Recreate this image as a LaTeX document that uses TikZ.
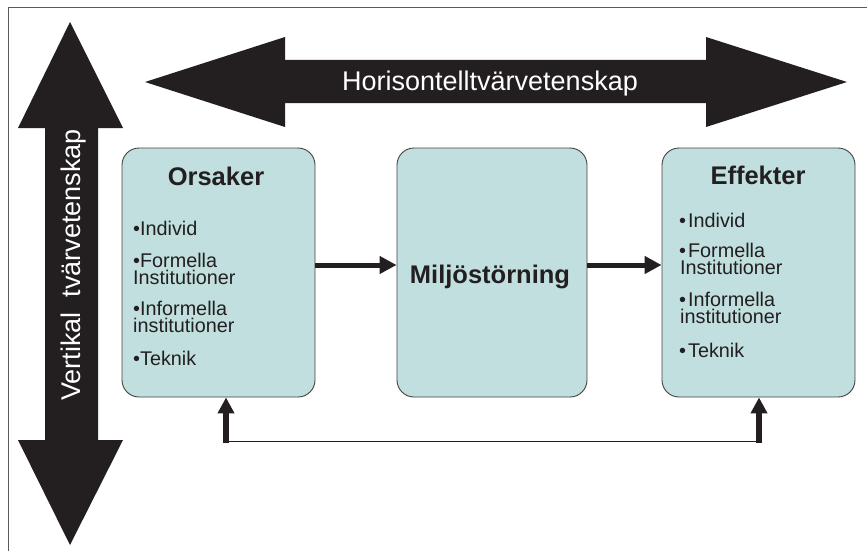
\documentclass[tikz,border=0pt]{standalone}
\usepackage{fontspec}
\setmainfont{Liberation Sans}
\usetikzlibrary{arrows.meta}
\definecolor{boxfill}{HTML}{C0DFDE}
\definecolor{ink}{HTML}{231F20}
\begin{document}
\begin{tikzpicture}[x=1pt,y=-1pt,
  bigarrow/.style={fill=ink,draw=none},
  bigtext/.style={text=white,font=\fontsize{27}{30}\selectfont,inner sep=0pt,anchor=base},
  panel/.style={draw=ink!85,line width=0.9pt,fill=boxfill,rectangle,rounded corners=17pt,inner sep=0pt},
  head/.style={font=\bfseries\fontsize{25.5}{28}\selectfont,text=ink,anchor=base,inner sep=0pt},
  item/.style={font=\fontsize{19.8}{17}\selectfont,text=ink,anchor=base west,inner sep=0pt,align=left},
  flow/.style={draw=ink,line width=5pt,-{Triangle[length=17pt,width=17pt]}},
  feed/.style={draw=ink,line width=6pt,-{Triangle[length=16pt,width=16pt]}},
  thinline/.style={draw=ink,line width=1.4pt},
  frame/.style={draw=black!65,line width=0.9pt}
]
\useasboundingbox (0,0) rectangle (867,551);
\fill[white] (0,0) rectangle (867,551);
\draw[frame] (8,551) -- (8,7) -- (867,7);

% vertical double arrow
\fill[bigarrow] (70,22) -- (123,128) -- (98,128) -- (98,440) -- (123,440) -- (70,545)
  -- (18,440) -- (45,440) -- (45,128) -- (18,128) -- cycle;
\node[bigtext,rotate=90] (vtext) at (80,265) {Vertikal\ \ tvärvetenskap};

% horizontal double arrow
\fill[bigarrow] (145,82) -- (285,37) -- (285,60) -- (706,60) -- (706,37) -- (847,82)
  -- (706,127) -- (706,103) -- (285,103) -- (285,127) -- cycle;
\node[bigtext] (htext) at (490,90) {Horisontelltvärvetenskap};

% boxes
\node[panel,minimum width=193pt,minimum height=249pt] (ors) at (218.5,272.5) {};
\node[panel,minimum width=190pt,minimum height=249pt] (milj) at (492,272.5) {};
\node[panel,minimum width=193pt,minimum height=249pt] (eff) at (758.5,272.5) {};

% box texts (base anchor = baseline of last line)
\node[head] (orsh) at (216,185) {Orsaker};
\node[item] (o1) at (133,235) {•Individ};
\node[item] (o2) at (133,284) {•Formella\\Institutioner};
\node[item] (o4) at (133,332) {•Informella\\institutioner};
\node[item] (o6) at (133,365) {•Teknik};

\node[head] (mh) at (490,283) {Miljöstörning};

\node[head] (effh) at (758,184) {Effekter};
\node[item] (e1) at (679,227) {•\hspace{2pt}Individ};
\node[item] (e2) at (679,274) {•\hspace{2pt}Formella\\\hspace{1pt}Institutioner};
\node[item] (e4) at (679,323) {•\hspace{2pt}Informella\\\hspace{1pt}institutioner};
\node[item] (e6) at (679,357) {•\hspace{2pt}Teknik};

% flow arrows
\draw[flow] ([yshift=7.5pt]ors.east) -- ([yshift=7.5pt]milj.west);
\draw[flow] ([yshift=7.5pt]milj.east) -- ([yshift=7.5pt]eff.west);

% feedback
\coordinate (fbL) at (226,442);
\coordinate (fbR) at (759,442);
\draw[thinline] ([yshift=0.7pt]fbL) -- ([yshift=0.7pt]fbR);
\draw[feed] ([yshift=-1pt]fbL) -- (fbL |- ors.south);
\draw[feed] ([yshift=-1pt]fbR) -- (fbR |- eff.south);
\end{tikzpicture}
\end{document}
